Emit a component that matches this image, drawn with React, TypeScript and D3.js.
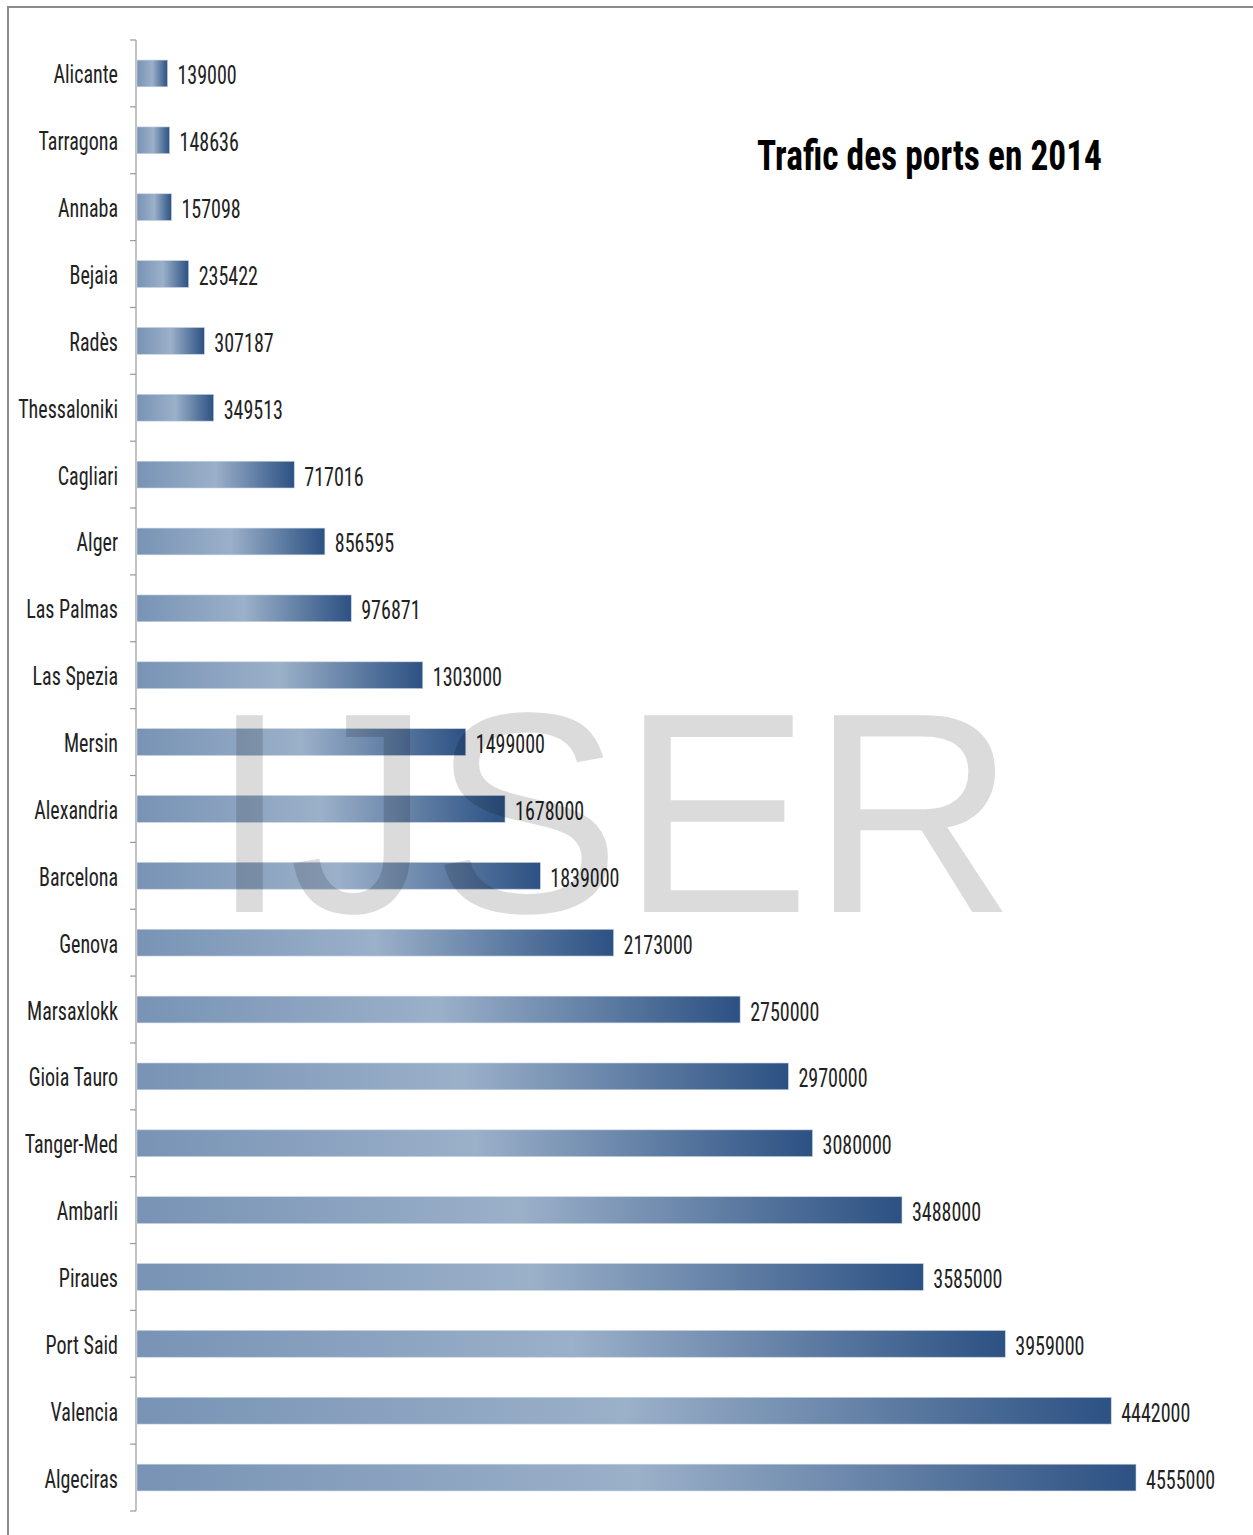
import React, { useRef, useEffect } from 'react';
import * as d3 from 'd3';

const PORTS = [
  'Alicante', 'Tarragona', 'Annaba', 'Bejaia', 'Radès', 'Thessaloniki', 'Cagliari', 'Alger',
  'Las Palmas', 'Las Spezia', 'Mersin', 'Alexandria', 'Barcelona', 'Genova', 'Marsaxlokk',
  'Gioia Tauro', 'Tanger-Med', 'Ambarli', 'Piraues', 'Port Said', 'Valencia', 'Algeciras',
];
const TRAFFIC = [
  139000, 148636, 157098, 235422, 307187, 349513, 717016, 856595, 976871, 1303000, 1499000,
  1678000, 1839000, 2173000, 2750000, 2970000, 3080000, 3488000, 3585000, 3959000, 4442000, 4555000,
];
const TITLE = 'Trafic des ports en 2014';
const WATERMARK = 'IJSER';

const FONT = '"Liberation Sans Narrow", "Arial Narrow", "Roboto Condensed", "Liberation Sans", sans-serif';
const W = 1253;
const H = 1535;
const SQUEEZE = 0.77; // labels in the source are tall and narrow

export default function App() {
  const svgRef = useRef<SVGSVGElement>(null);

  useEffect(() => {
    document.body.style.margin = '0';
    const svg = d3.select(svgRef.current);
    svg.selectAll('*').remove();

    const x0 = 136;
    const y = d3.scaleBand<string>().domain(PORTS).range([40, 1511]).paddingInner(0.6).paddingOuter(0.3);
    const x = d3.scaleLinear().domain([0, d3.max(TRAFFIC)!]).range([0, 999]);

    // frame
    svg.append('path')
      .attr('d', `M8,${H} L8,7 L${W},7`)
      .attr('fill', 'none').attr('stroke', '#8c8c8c').attr('stroke-width', 2);

    const grad = svg.append('defs').append('linearGradient').attr('id', 'barGrad')
      .attr('x1', '0%').attr('x2', '100%').attr('y1', '0%').attr('y2', '0%');
    [
      { o: '0%', c: '#7893b5' },
      { o: '50%', c: '#9bb0c9' },
      { o: '100%', c: '#2c5183' },
    ].forEach(s => grad.append('stop').attr('offset', s.o).attr('stop-color', s.c));

    const g = svg.append('g').attr('transform', `translate(${x0},0)`);

    // axis line + ticks at band boundaries
    const step = y.step();
    const start = y(PORTS[0])! - step * 0.3;
    g.append('line').attr('x1', 0).attr('x2', 0).attr('y1', start).attr('y2', start + step * PORTS.length)
      .attr('stroke', '#9a9a9a').attr('stroke-width', 1.2);
    d3.range(PORTS.length + 1).forEach(i => {
      g.append('line').attr('x1', -6).attr('x2', 0)
        .attr('y1', start + i * step).attr('y2', start + i * step)
        .attr('stroke', '#9a9a9a').attr('stroke-width', 1.2);
    });

    // bars
    g.selectAll('rect.bar').data(PORTS).enter().append('rect')
      .attr('class', 'bar')
      .attr('x', 1)
      .attr('y', d => y(d)!)
      .attr('width', (d, i) => x(TRAFFIC[i]))
      .attr('height', y.bandwidth())
      .attr('fill', 'url(#barGrad)')
      .attr('stroke', '#c5d1e0').attr('stroke-width', 0.6);

    // category labels
    g.selectAll('text.cat').data(PORTS).enter().append('text')
      .attr('class', 'cat')
      .attr('transform', d => `translate(-18,${y(d)! + y.bandwidth() / 2 + 10}) scale(${SQUEEZE},1)`)
      .attr('text-anchor', 'end')
      .attr('font-family', FONT).attr('font-size', 26).attr('fill', '#222')
      .text(d => d);

    // value labels
    g.selectAll('text.val').data(PORTS).enter().append('text')
      .attr('class', 'val')
      .attr('transform', (d, i) => `translate(${x(TRAFFIC[i]) + 11},${y(d)! + y.bandwidth() / 2 + 11}) scale(${SQUEEZE},1)`)
      .attr('font-family', FONT).attr('font-size', 26).attr('fill', '#222')
      .text((d, i) => String(TRAFFIC[i]));

    // title
    svg.append('text')
      .attr('x', 757).attr('y', 170)
      .attr('font-family', FONT).attr('font-size', 42).attr('font-weight', 'bold').attr('fill', '#000')
      .attr('textLength', 345).attr('lengthAdjust', 'spacingAndGlyphs')
      .text(TITLE);

    // watermark
    svg.append('text')
      .attr('x', 210).attr('y', 912)
      .attr('font-family', '"Liberation Sans", Arial, sans-serif').attr('font-size', 286)
      .attr('fill', '#000').attr('fill-opacity', 0.14)
      .attr('textLength', 806).attr('lengthAdjust', 'spacingAndGlyphs')
      .text(WATERMARK);
  }, []);

  return <svg ref={svgRef} width={W} height={H} style={{ display: 'block', background: '#fff' }} />;
}
